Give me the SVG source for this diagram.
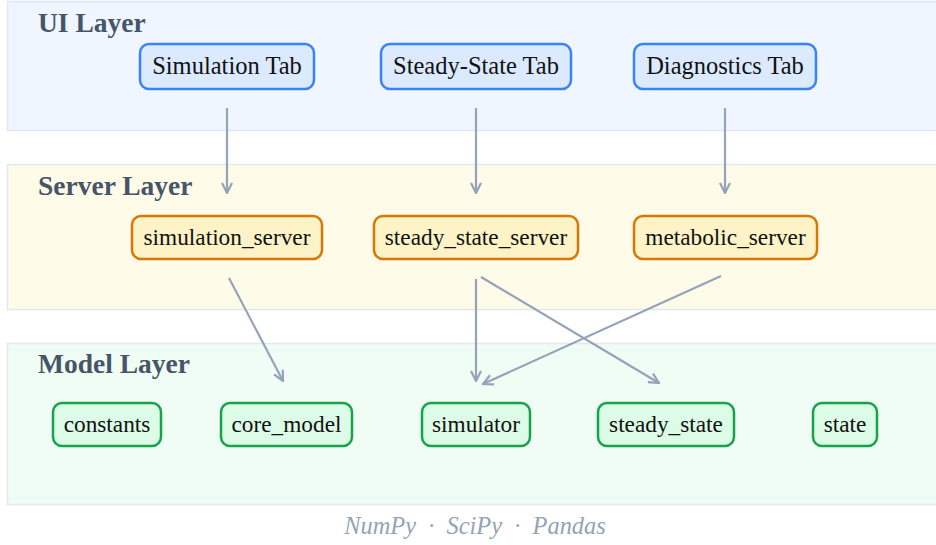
<svg xmlns="http://www.w3.org/2000/svg" width="936" height="545" viewBox="0 0 936 545">
  <style>
    .layer-title { font-family: "Liberation Serif", "Times New Roman", serif; font-weight: bold; font-size: 27.5px; fill: #475569; }
    .label { font-family: "Liberation Serif", "Times New Roman", serif; font-size: 23.3px; fill: #111111; text-anchor: middle; dominant-baseline: central; }
    .ui .label { font-size: 24.5px; }
    .ui rect { fill: #dbeafe; stroke: #3b82f6; stroke-width: 2.5; }
    .srv rect { fill: #fef3c7; stroke: #d97706; stroke-width: 2.5; }
    .mdl rect { fill: #dcfce7; stroke: #16a34a; stroke-width: 2.5; }
    .edge { fill: none; stroke: #94a3b8; stroke-width: 2.2; marker-end: url(#arrow); }
    .footer { font-family: "Liberation Serif", "Times New Roman", serif; font-style: italic; font-size: 24.4px; fill: #94a3b8; text-anchor: middle; }
  </style>
  <defs>
    <marker id="arrow" viewBox="0 0 12 12" refX="11" refY="6" markerWidth="12" markerHeight="12" markerUnits="userSpaceOnUse" orient="auto">
      <path d="M1,1 L11,6 L1,11" fill="none" stroke="#94a3b8" stroke-width="2.2"/>
    </marker>
  </defs>

  <rect width="936" height="545" fill="#ffffff"/>

  <!-- layer bands -->
  <g id="layers">
    <rect x="7.5" y="1.5" width="935" height="129" fill="#eff6ff" stroke="#e2e8f0" stroke-width="1.5"/>
    <rect x="7.5" y="164.5" width="935" height="145" fill="#fefbe8" stroke="#e2e8f0" stroke-width="1.5"/>
    <rect x="7.5" y="343.5" width="935" height="161" fill="#f0fdf4" stroke="#e2e8f0" stroke-width="1.5"/>
    <text class="layer-title" x="38" y="32">UI Layer</text>
    <text class="layer-title" x="38" y="195">Server Layer</text>
    <text class="layer-title" x="38" y="373">Model Layer</text>
  </g>

  <!-- connectors -->
  <g id="connectors">
    <line class="edge" x1="227" y1="108" x2="227" y2="193"/>
    <line class="edge" x1="476" y1="108" x2="476" y2="193"/>
    <line class="edge" x1="725" y1="108" x2="725" y2="193"/>
    <line class="edge" x1="229" y1="278" x2="283" y2="381"/>
    <line class="edge" x1="476" y1="279" x2="476" y2="381"/>
    <line class="edge" x1="481" y1="277" x2="659" y2="383"/>
    <line class="edge" x1="721" y1="276" x2="483" y2="384"/>
  </g>

  <!-- UI layer nodes -->
  <g id="simulation_tab" class="ui">
    <rect x="140" y="44" width="174" height="45" rx="9"/>
    <text class="label" x="227" y="65.5">Simulation Tab</text>
  </g>
  <g id="steady_state_tab" class="ui">
    <rect x="381" y="44" width="190" height="45" rx="9"/>
    <text class="label" x="476" y="65.5">Steady-State Tab</text>
  </g>
  <g id="diagnostics_tab" class="ui">
    <rect x="634" y="44" width="182" height="45" rx="9"/>
    <text class="label" x="725" y="65.5">Diagnostics Tab</text>
  </g>

  <!-- server layer nodes -->
  <g id="simulation_server" class="srv">
    <rect x="132" y="216" width="190" height="43" rx="9"/>
    <text class="label" x="227" y="236.5">simulation_server</text>
  </g>
  <g id="steady_state_server" class="srv">
    <rect x="374" y="216" width="204" height="43" rx="9"/>
    <text class="label" x="476" y="236.5">steady_state_server</text>
  </g>
  <g id="metabolic_server" class="srv">
    <rect x="634" y="216" width="183" height="43" rx="9"/>
    <text class="label" x="725.5" y="236.5">metabolic_server</text>
  </g>

  <!-- model layer nodes -->
  <g id="constants" class="mdl">
    <rect x="53" y="403" width="108" height="43" rx="9"/>
    <text class="label" x="107" y="423.5">constants</text>
  </g>
  <g id="core_model" class="mdl">
    <rect x="221" y="403" width="131" height="43" rx="9"/>
    <text class="label" x="286.5" y="423.5">core_model</text>
  </g>
  <g id="simulator" class="mdl">
    <rect x="422" y="403" width="108" height="43" rx="9"/>
    <text class="label" x="476" y="423.5">simulator</text>
  </g>
  <g id="steady_state" class="mdl">
    <rect x="598" y="403" width="136" height="43" rx="9"/>
    <text class="label" x="666" y="423.5">steady_state</text>
  </g>
  <g id="state" class="mdl">
    <rect x="813" y="403" width="64" height="43" rx="9"/>
    <text class="label" x="845" y="423.5">state</text>
  </g>

  <text class="footer" x="475" y="534" xml:space="preserve">NumPy  ·  SciPy  ·  Pandas</text>
</svg>
